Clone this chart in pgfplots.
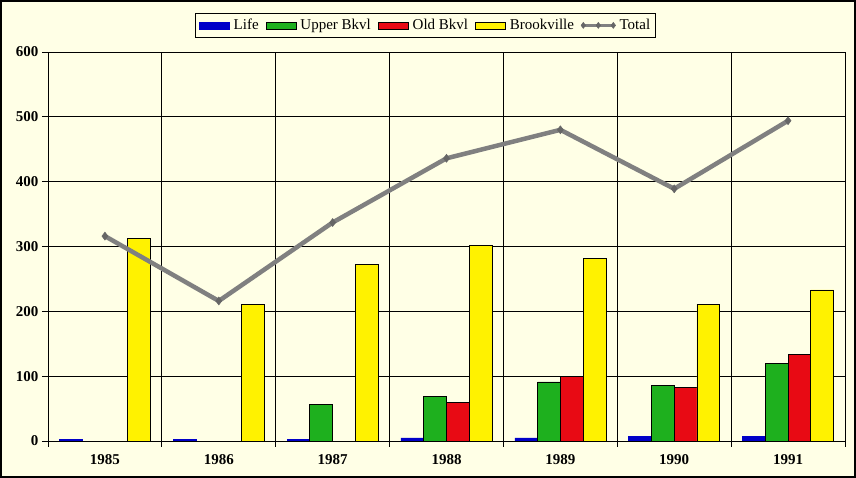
\documentclass[border=0pt]{standalone}
\usepackage{pgfplots}
\pgfplotsset{compat=1.18}
\usepackage{fontspec}
\setmainfont{Liberation Serif}

\definecolor{bgcream}{HTML}{FFFFE6}
\definecolor{lifeblue}{HTML}{0000C8}
\definecolor{uppergreen}{HTML}{1EB01E}
\definecolor{oldred}{HTML}{E80A14}
\definecolor{brookyellow}{HTML}{FFF200}
\definecolor{totalgray}{HTML}{808080}

\pgfplotsset{
  barleg/.style={legend image code/.code={\draw[##1] (0pt,-3.5pt) rectangle (30pt,3.5pt);}},
  totalleg/.style={legend image code/.code={\draw[##1, line width=3pt, mark size=3pt] plot coordinates {(0pt,0pt) (15pt,0pt) (30pt,0pt)};}},
}

\begin{document}
\begin{tikzpicture}[x=1pt,y=1pt]
\fill[bgcream] (-48,-37) rectangle (808,441);
\draw[black, line width=2pt] (-47,-36) rectangle (807,440);
\begin{axis}[
    at={(0,0)}, anchor=south west,
    scale only axis,
    width=797pt, height=389pt,
    xmin=-0.5, xmax=6.5,
    ymin=0, ymax=600,
    ytick={0,100,...,600},
    xtick={0,...,6},
    xticklabels={1985,1986,1987,1988,1989,1990,1991},
    minor xtick={-0.5,0.5,...,6.5},
    xminorgrids=true, ymajorgrids=true,
    grid style={black, line width=0.8pt},
    minor grid style={black, line width=0.8pt},
    major x tick style={draw=none},
    minor x tick style={black, line width=0.8pt},
    y tick style={black, line width=0.8pt},
    tick align=outside, tick pos=left,
    major tick length=6pt, minor tick length=6pt,
    axis line style={black, line width=0.8pt},
    ticklabel style={font=\fontsize{15}{17}\selectfont\bfseries},
    /pgf/number format/assume math mode=true,
    xticklabel style={yshift=-4pt},
    legend columns=5,
    legend style={at={(axis description cs:0.4737,1.1003)}, anchor=north,
        draw=black, line width=0.8pt, fill=bgcream,
        font=\fontsize{15}{17}\selectfont,
        /tikz/every even column/.append style={column sep=5pt},
        /tikz/every odd column/.append style={column sep=2pt},
        inner xsep=3pt, inner ysep=4pt},
    legend cell align=left,
]
\addplot[ybar, bar width=0.2, bar shift=-0.3, fill=lifeblue, draw=lifeblue, barleg]
  coordinates {(0,3) (1,3) (2,3) (3,5) (4,5) (5,7) (6,7)};
\addlegendentry{Life}
\addplot[ybar, bar width=0.2, bar shift=-0.1, fill=uppergreen, draw=black, line width=0.8pt, barleg]
  coordinates {(2,57) (3,69) (4,91) (5,86) (6,120)};
\addlegendentry{Upper Bkvl}
\addplot[ybar, bar width=0.2, bar shift=0.1, fill=oldred, draw=black, line width=0.8pt, barleg]
  coordinates {(3,60) (4,99) (5,83) (6,134)};
\addlegendentry{Old Bkvl}
\addplot[ybar, bar width=0.2, bar shift=0.3, fill=brookyellow, draw=black, line width=0.8pt, barleg]
  coordinates {(0,313) (1,211) (2,273) (3,301) (4,282) (5,211) (6,233)};
\addlegendentry{Brookville}
\addplot[sharp plot, totalgray, line width=4.5pt, mark=diamond*, mark size=4pt,
    mark options={fill=totalgray!80!black, draw=totalgray!80!black, line width=0.5pt},
    totalleg]
  coordinates {(0,316) (1,216) (2,337) (3,436) (4,480) (5,389) (6,494)};
\addlegendentry{Total}
\end{axis}
\end{tikzpicture}
\end{document}
